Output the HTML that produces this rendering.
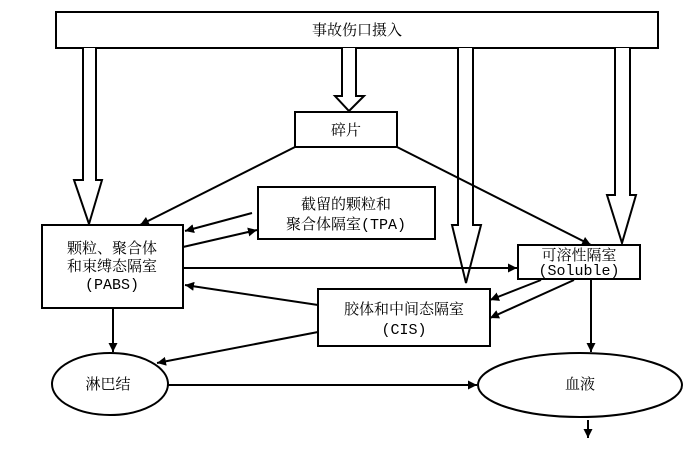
<!DOCTYPE html>
<html><head><meta charset="utf-8"><style>
html,body{margin:0;padding:0;background:#fff;}
svg{display:block;}
text{font-family:"Liberation Mono","Noto Serif CJK SC","Noto Sans CJK SC",serif;font-size:15px;fill:#000;}
</style></head><body>
<svg width="700" height="452" viewBox="0 0 700 452" xmlns="http://www.w3.org/2000/svg">
<defs>
<marker id="a" viewBox="0 0 10 10" refX="10" refY="5" markerWidth="9" markerHeight="9" markerUnits="userSpaceOnUse" orient="auto"><path d="M0,0 L10,5 L0,10 z" fill="#000"/></marker>
</defs>
<g fill="#fff" stroke="#000" stroke-width="2">
<rect x="56" y="12" width="602" height="36"/>
<!-- hollow arrows -->
<path d="M83,48 V180 H74 L89,224 L102,180 H96 V48"/>
<path d="M342,48 V96 H335 L349,111 L364,96 H356 V48"/>
<path d="M458,48 V225 H452 L466,283 L481,225 H473 V48"/>
<path d="M615,48 V195 H607 L622,243 L636,195 H630 V48"/>
<rect x="295" y="112" width="102" height="35"/>
<rect x="258" y="187" width="177" height="52"/>
<rect x="42" y="225" width="141" height="83"/>
<rect x="518" y="245" width="122" height="34"/>
<rect x="318" y="289" width="172" height="57"/>
<ellipse cx="110" cy="384" rx="58" ry="31"/>
<ellipse cx="580" cy="385" rx="102" ry="32"/>
</g>
<g stroke="#000" stroke-width="2" fill="none" marker-end="url(#a)">
<line x1="295" y1="147" x2="140" y2="225"/>
<line x1="397" y1="147" x2="591" y2="245"/>
<line x1="252" y1="213" x2="185" y2="231"/>
<line x1="183" y1="247" x2="257" y2="230"/>
<line x1="183" y1="268" x2="517" y2="268"/>
<line x1="318" y1="305" x2="185" y2="285"/>
<line x1="318" y1="332" x2="157" y2="363"/>
<line x1="541" y1="280" x2="490" y2="300"/>
<line x1="574" y1="280" x2="490" y2="318"/>
<line x1="591" y1="279" x2="591" y2="352"/>
<line x1="113" y1="308" x2="113" y2="352"/>
<line x1="168" y1="385" x2="477" y2="385"/>
<line x1="588" y1="420" x2="588" y2="438"/>
</g>
<g text-anchor="middle">
<text x="357" y="35">事故伤口摄入</text>
<text x="346" y="135">碎片</text>
<text x="346" y="209">截留的颗粒和</text>
<text x="346" y="229">聚合体隔室(TPA)</text>
<text x="112" y="253">颗粒、聚合体</text>
<text x="112" y="271">和束缚态隔室</text>
<text x="112" y="289">(PABS)</text>
<text x="579" y="260">可溶性隔室</text>
<text x="579" y="275">(Soluble)</text>
<text x="404" y="314">胶体和中间态隔室</text>
<text x="404" y="334">(CIS)</text>
<text x="108" y="389">淋巴结</text>
<text x="580" y="389">血液</text>
</g>
</svg>
</body></html>
